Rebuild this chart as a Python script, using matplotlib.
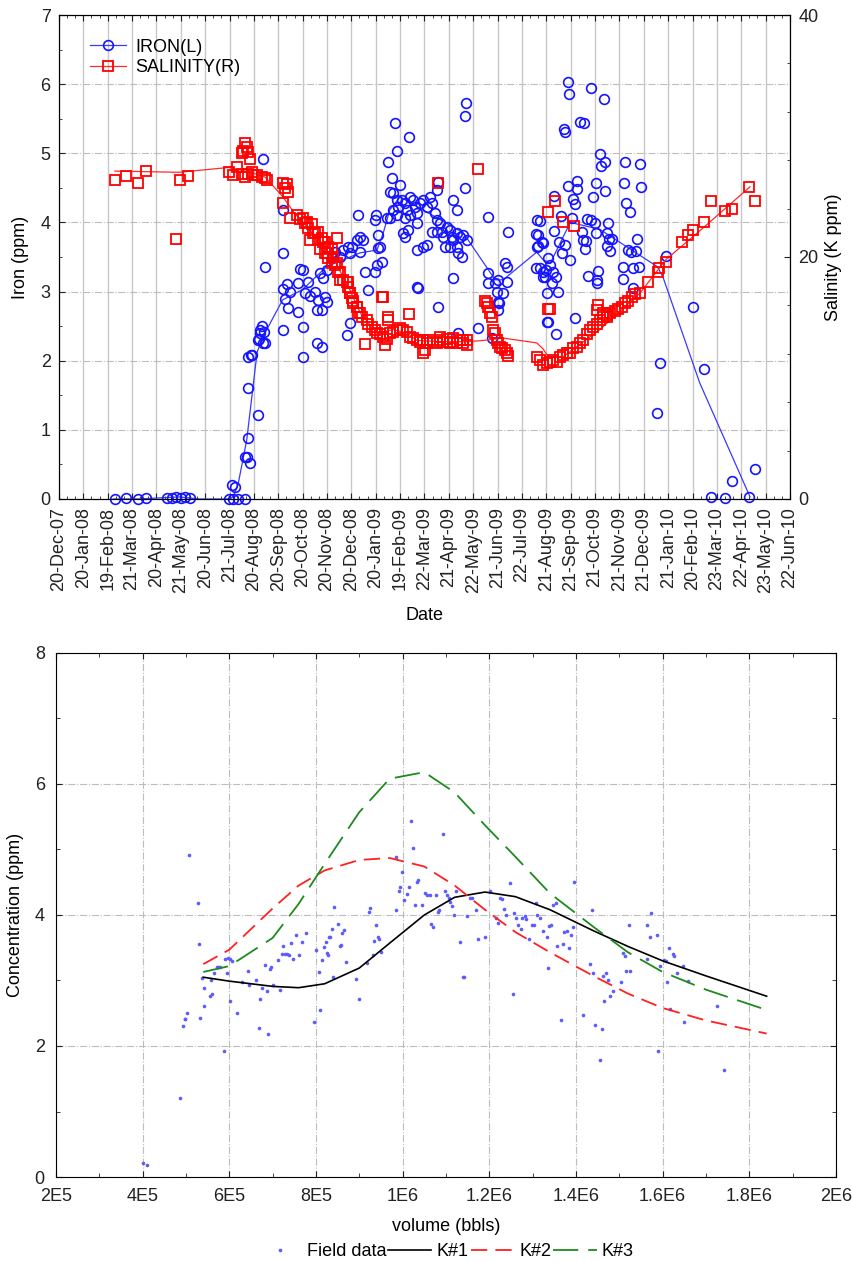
import numpy as np
import matplotlib.pyplot as plt
from matplotlib.ticker import MultipleLocator
from matplotlib.lines import Line2D

plt.rcParams['font.family'] = ['Liberation Sans', 'DejaVu Sans']
plt.rcParams['font.size'] = 13

# ---------------- top chart data (days counted from 20-Dec-07) ----------------
date_labels = ['20-Dec-07', '20-Jan-08', '19-Feb-08', '21-Mar-08', '20-Apr-08', '21-May-08',
               '20-Jun-08', '21-Jul-08', '20-Aug-08', '20-Sep-08', '20-Oct-08', '20-Nov-08',
               '20-Dec-08', '20-Jan-09', '19-Feb-09', '22-Mar-09', '21-Apr-09', '22-May-09',
               '21-Jun-09', '22-Jul-09', '21-Aug-09', '21-Sep-09', '21-Oct-09', '21-Nov-09',
               '21-Dec-09', '21-Jan-10', '20-Feb-10', '23-Mar-10', '22-Apr-10', '23-May-10',
               '22-Jun-10']
tick_step = 30.5  # days between date labels

iron_day = [70, 84, 99, 109, 135, 141, 146, 153, 158, 164, 213, 218, 224, 233, 217, 220,
            233, 235, 237, 239, 237, 237, 240, 249, 250, 252, 254, 257, 258, 255, 258,
            280, 280, 280, 285, 289, 283, 299, 302, 305, 312, 308, 314,
            320, 327, 330, 333, 324, 335, 329, 323,
            287, 299, 305, 280, 252, 255, 249, 323, 329, 305, 242,
            335, 342, 345, 352, 355, 362, 364, 367, 373, 377, 381, 374, 377, 383, 387, 364, 360,
            396, 397, 399, 402, 399, 398, 396, 404, 411, 412, 417, 421, 423, 427, 438,
            414, 418, 423, 424, 429, 433, 436, 439, 443, 446, 448, 452, 456, 461, 464, 467,
            471, 473, 477, 479, 481, 486, 489, 492, 493, 498, 502, 506, 511, 498, 489, 483,
            473, 467, 414, 418, 423, 433, 439, 448, 456, 461, 448, 431, 433, 437,
            474, 473, 508, 498, 493, 499, 504, 493, 474, 449, 448, 499, 524, 537, 562, 558,
            561, 537, 537, 546, 550, 548, 556, 550, 561, 550, 542, 598, 600, 606, 598, 602,
            606, 608, 611, 611, 509, 508, 551,
            637, 638, 666, 682, 652, 657, 632, 633, 677, 678, 683, 708, 727, 648, 637, 648,
            672, 707, 728, 683, 668, 620, 643, 646, 710, 715, 628, 642, 661, 666, 671, 602,
            687, 723, 620, 655, 672, 686, 688, 692, 656, 660, 658, 597, 605, 600, 626, 633,
            630, 640, 712, 716, 722, 686, 690, 612, 615, 610, 618, 606, 617, 622, 597, 675,
            673, 673, 662, 706, 718, 726, 706, 718, 625, 646, 612, 622, 760, 794, 752,
            749, 807, 816, 834, 864, 842, 871]
iron_ppm = [0.0, 0.01, 0.0, 0.01, 0.02, 0.02, 0.03, 0.02, 0.03, 0.02, 0.0, 0.0, 0.0, 0.0, 0.2, 0.17,
            0.6, 0.6, 0.88, 0.52, 1.6, 2.05, 2.08, 1.21, 2.31, 2.4, 2.5, 2.41, 2.25, 4.92, 3.35,
            4.18, 3.56, 3.04, 3.11, 2.99, 2.89, 3.12, 3.33, 3.31, 3.14, 2.98, 2.94,
            2.99, 3.27, 3.2, 2.92, 2.88, 2.85, 2.73, 2.73,
            2.76, 2.7, 2.49, 2.44, 2.44, 2.26, 2.3, 2.26, 2.2, 2.05, 2.08,
            3.31, 3.5, 3.57, 3.5, 3.6, 3.65, 3.56, 3.65, 3.75, 3.79, 3.75, 4.11, 3.57, 3.28, 3.02, 2.55, 2.37,
            4.04, 4.11, 3.82, 3.65, 3.63, 3.38, 3.28, 3.43, 4.06, 4.87, 4.64, 5.44, 5.03, 4.54, 5.24,
            4.44, 4.43, 4.32, 4.22, 4.32, 4.28, 4.18, 4.37, 4.32, 4.22, 4.14, 4.28, 4.32, 4.22, 4.37, 4.28,
            4.14, 4.04, 3.99, 3.86, 3.79, 3.93, 3.89, 3.79, 3.75, 3.85, 3.79, 3.82, 3.75, 3.65, 3.65, 3.65,
            3.86, 3.86, 4.06, 4.18, 4.11, 4.06, 4.11, 3.99, 3.65, 3.67, 3.6, 3.85, 3.79, 3.89,
            4.58, 4.47, 4.5, 4.18, 4.32, 3.56, 3.5, 3.2, 2.78, 3.05, 3.07, 2.4, 2.47, 4.08, 3.86, 3.41,
            3.36, 3.27, 3.12, 3.12, 3.17, 2.99, 2.98, 2.85, 3.14, 2.73, 2.33, 4.04, 3.82, 3.7, 3.65, 3.34,
            3.28, 3.21, 2.98, 2.56, 5.73, 5.54, 2.83,
            6.03, 5.86, 5.95, 5.79, 5.45, 5.44, 5.35, 5.31, 4.99, 4.82, 4.87, 4.87, 4.85, 4.6, 4.53, 4.48,
            4.57, 4.57, 4.51, 4.45, 4.37, 4.38, 4.34, 4.27, 4.28, 4.15, 4.09, 4.06, 4.05, 4.04, 3.99, 4.02,
            3.99, 3.76, 3.88, 3.86, 3.85, 3.85, 3.76, 3.76, 3.75, 3.73, 3.62, 3.83, 3.72, 3.66, 3.72, 3.67,
            3.56, 3.46, 3.6, 3.57, 3.59, 3.66, 3.59, 3.49, 3.38, 3.31, 3.28, 3.21, 3.12, 3.21, 3.34, 3.3,
            3.17, 3.12, 3.23, 3.36, 3.34, 3.36, 3.18, 3.05, 2.99, 2.62, 2.56, 2.39, 3.51, 2.78, 1.97,
            1.25, 1.88, 0.03, 0.01, 0.03, 0.26, 0.43]

iron_fit_day = [68, 100, 150, 176, 213, 218, 224, 235, 248, 255, 280, 305, 335, 377, 398, 406,
                414, 427, 506, 546, 556, 598, 606, 615, 640, 677, 749, 756, 802, 865]
iron_fit_ppm = [0.0, 0.0, 0.03, 0.0, 0.0, 0.03, 0.2, 0.85, 2.12, 2.34, 2.88, 3.03, 3.36, 3.56, 3.6, 3.85,
                4.18, 4.37, 3.85, 3.17, 3.17, 3.57, 3.46, 3.41, 4.0, 3.9, 3.36, 3.21, 1.68, 0.03]

sal_day = [70, 84, 99, 109, 146, 152, 162, 213, 218, 223, 229, 233, 230, 233, 235, 237, 229, 239,
           237, 242, 243, 248, 254, 258, 260,
           280, 283, 285, 287, 280, 289, 298, 302, 305, 310, 317, 314, 318, 324, 329, 333, 337,
           348, 327, 335, 343, 348, 352, 355, 362, 364, 368, 373, 377, 406, 412, 438,
           308, 312, 320, 324, 330, 342, 333, 337, 342, 345, 349, 352, 360, 362, 364, 367, 368,
           373, 374, 379, 386, 387, 392, 396, 398, 402, 406, 411, 414, 418, 423, 427, 431, 436,
           439, 443, 448, 452, 456, 461, 464, 468, 473, 477, 481, 486, 489, 493, 498, 502, 506,
           511, 383, 408, 456, 412, 404, 475, 524, 612, 612,
           533, 536, 537, 539, 542, 543, 546, 548, 550, 555, 558, 561, 562, 598, 602, 606,
           552, 611, 615, 618, 623, 627, 631, 636, 640, 643, 648, 652, 656, 661, 665, 668,
           673, 677, 681, 686, 690, 696, 700, 705, 708, 712, 717, 721, 727, 675, 673, 681, 686,
           615, 621, 631, 645, 737, 750, 760, 780, 787, 794, 751, 807, 816, 834, 842, 864, 871,
           452, 458, 477, 493, 506, 511]
sal_kppm = [26.4, 26.7, 26.1, 27.1, 21.5, 26.4, 26.7, 27.0, 26.8, 27.4, 26.9, 26.6, 28.8, 29.4, 29.1,
            28.7, 28.6, 28.1, 26.9, 27.0, 26.8, 26.8, 26.6, 26.5, 26.4,
            26.1, 25.7, 26.0, 25.4, 24.5, 23.2, 23.5, 23.1, 23.2, 22.9, 22.7, 21.4, 22.0, 22.1, 21.6,
            21.2, 20.8, 21.6, 20.7, 20.3, 20.0, 19.5, 18.8, 18.1, 17.9, 17.0, 16.4, 15.9, 15.4, 16.7,
            15.0, 15.3,
            22.8, 22.4, 22.0, 21.4, 21.2, 20.7, 20.3, 19.9, 19.5, 19.3, 18.8, 18.1, 17.9, 17.5, 17.0,
            16.6, 16.2, 15.9, 15.4, 15.0, 14.8, 14.5, 14.2, 14.0, 13.7, 13.6, 13.4, 13.2, 13.7, 13.8,
            14.0, 14.1, 14.0, 13.8, 13.4, 13.3, 13.1, 13.0, 13.1, 12.9, 13.1, 13.0, 12.9, 13.1, 13.0,
            13.2, 12.9, 13.0, 12.9, 13.1, 12.9, 13.1, 12.8, 12.7, 12.1, 14.8, 16.7, 26.1, 27.3, 23.7,
            15.7,
            16.4, 16.2, 15.9, 15.4, 15.0, 14.0, 13.7, 13.1, 12.9, 12.5, 12.3, 12.1, 11.8, 11.7, 11.5,
            11.1, 12.6, 11.2, 11.3, 11.5, 11.3, 11.7, 11.9, 12.1, 12.1, 12.5, 12.6, 12.9, 13.1, 13.6,
            14.0, 14.2, 14.5, 14.8, 15.0, 15.2, 15.4, 15.5, 15.7, 15.9, 16.2, 16.4, 16.7, 16.9, 17.0,
            16.0, 15.6, 15.4, 15.0, 15.7, 24.6, 22.9, 22.6, 17.9, 18.8, 19.6, 21.2, 21.8, 22.2, 19.1,
            22.9, 24.6, 23.8, 24.0, 25.8, 24.6,
            13.1, 12.3, 13.4, 13.3, 13.1, 12.7]

sal_fit_day = [70, 150, 213, 240, 258, 280, 295, 325, 345, 364, 377, 398, 418, 436, 448, 480,
               511, 531, 556, 598, 606, 612, 630, 677, 727, 760, 801, 865]
sal_fit_kppm = [27.1, 27.0, 27.4, 27.0, 26.6, 25.0, 23.6, 21.5, 19.7, 17.3, 15.4, 13.7, 14.0, 13.7,
                13.1, 13.0, 13.0, 13.1, 13.3, 12.9, 12.4, 11.8, 11.7, 14.0, 17.0, 19.8, 22.1, 25.8]

# ---------------- bottom chart data ----------------
vol_labels = ['2E5', '4E5', '6E5', '8E5', '1E6', '1.2E6', '1.4E6', '1.6E6', '1.8E6', '2E6']

field_vol = [4.0e5, 4.09e5, 4.86e5, 5.08e5, 5.28e5, 5.29e5, 4.93e5, 4.97e5, 4.98e5, 5.02e5,
             5.33e5, 5.37e5, 5.41e5, 5.42e5, 5.55e5, 5.61e5, 5.58e5, 5.65e5, 5.72e5, 5.75e5,
             5.79e5, 5.87e5, 5.91e5, 5.97e5, 6.02e5, 6.07e5, 5.95e5, 6.02e5, 6.18e5, 6.43e5,
             6.45e5, 6.29e5, 6.62e5, 6.68e5, 6.7e5, 6.75e5, 6.83e5, 6.93e5, 6.96e5, 6.87e5,
             6.89e5, 7.01e5, 7.16e5, 7.12e5, 7.24e5, 7.21e5, 7.29e5, 7.33e5, 7.38e5, 7.46e5,
             7.53e5, 7.42e5, 7.6e5, 7.68e5, 7.76e5, 7.96e5, 8.01e5, 8.06e5, 8.1e5, 8.13e5,
             8.18e5, 8.22e5, 8.25e5, 8.27e5, 8.3e5, 8.33e5, 8.38e5, 8.41e5, 8.39e5, 8.5e5,
             8.55e5, 8.58e5, 8.6e5, 8.64e5, 8.7e5, 8.92e5, 9.0e5, 9.18e5, 9.22e5, 9.25e5,
             9.31e5, 9.35e5, 9.38e5, 9.42e5, 9.45e5, 9.51e5, 9.85e5, 9.85e5, 9.91e5, 9.95e5,
             9.98e5, 1.002e6, 1.01e6, 1.014e6, 1.02e6, 1.024e6, 1.028e6, 1.032e6, 1.036e6, 1.045e6,
             1.052e6, 1.056e6, 1.064e6, 1.078e6, 1.065e6, 1.07e6, 1.081e6, 1.083e6, 1.092e6, 1.098e6,
             1.102e6, 1.106e6, 1.11e6, 1.113e6, 1.119e6, 1.124e6, 1.132e6, 1.139e6, 1.142e6, 1.148e6,
             1.155e6, 1.16e6, 1.169e6, 1.175e6, 1.189e6, 1.202e6, 1.215e6, 1.219e6, 1.225e6, 1.229e6,
             1.233e6, 1.239e6, 1.247e6, 1.254e6, 1.256e6, 1.262e6, 1.266e6, 1.272e6, 1.275e6, 1.283e6,
             1.285e6, 1.291e6, 1.298e6, 1.302e6, 1.308e6, 1.31e6, 1.316e6, 1.325e6, 1.332e6, 1.335e6,
             1.337e6, 1.342e6, 1.346e6, 1.354e6, 1.356e6, 1.369e6, 1.373e6, 1.379e6, 1.385e6, 1.388e6,
             1.392e6, 1.396e6, 1.365e6, 1.417e6, 1.433e6, 1.436e6, 1.44e6, 1.445e6, 1.455e6, 1.459e6,
             1.462e6, 1.469e6, 1.473e6, 1.465e6, 1.478e6, 1.485e6, 1.504e6, 1.508e6, 1.512e6, 1.515e6,
             1.525e6, 1.522e6, 1.564e6, 1.565e6, 1.571e6, 1.573e6, 1.586e6, 1.59e6, 1.595e6, 1.602e6,
             1.608e6, 1.61e6, 1.614e6, 1.618e6, 1.623e6, 1.627e6, 1.633e6, 1.648e6, 1.65e6, 1.658e6,
             1.725e6, 1.741e6]
field_conc = [0.21, 0.18, 1.21, 4.91, 4.19, 3.55, 2.31, 2.41, 2.41, 2.51,
              2.43, 3.04, 2.88, 2.61, 2.76, 2.79, 3.0, 3.12, 3.2, 3.21,
              3.21, 1.92, 3.33, 3.35, 3.33, 3.29, 3.12, 2.69, 2.5, 3.14,
              2.93, 2.98, 3.0, 2.27, 2.72, 2.89, 3.24, 3.17, 3.21, 2.84,
              2.19, 2.93, 2.86, 3.31, 3.52, 3.4, 3.4, 3.4, 3.39, 3.33,
              3.69, 3.57, 3.39, 3.58, 3.73, 2.37, 3.47, 3.13, 2.55, 3.31,
              3.51, 3.58, 3.42, 3.39, 3.66, 3.66, 3.79, 4.12, 3.06, 3.86,
              3.52, 3.54, 3.72, 3.77, 3.28, 3.02, 2.71, 3.27, 4.04, 4.1,
              3.39, 3.61, 3.84, 3.66, 3.63, 3.44, 4.07, 4.88, 4.36, 4.43,
              4.65, 4.23, 4.32, 4.42, 5.44, 5.02, 4.15, 4.51, 4.54, 4.16,
              4.33, 4.3, 4.3, 4.3, 3.86, 3.81, 4.04, 4.08, 5.23, 4.37,
              4.31, 4.26, 4.2, 4.14, 4.0, 4.36, 3.59, 3.05, 3.06, 3.98,
              4.26, 4.26, 4.07, 3.63, 3.67, 4.37, 3.95, 3.87, 4.26, 4.24,
              4.09, 4.0, 4.49, 2.79, 4.03, 3.96, 3.84, 3.79, 3.96, 3.98,
              3.94, 3.63, 3.84, 3.84, 4.19, 4.0, 3.96, 3.76, 3.66, 3.19,
              3.83, 3.85, 4.16, 4.18, 3.52, 3.55, 3.74, 3.75, 3.49, 3.7,
              3.81, 4.5, 2.4, 2.47, 3.25, 4.08, 3.11, 2.32, 1.79, 2.26,
              3.07, 3.11, 3.0, 2.68, 2.77, 2.84, 2.97, 3.42, 3.37, 3.15,
              3.15, 3.85, 3.33, 3.84, 3.66, 4.03, 3.7, 1.92, 3.22, 3.32,
              3.3, 2.97, 3.49, 2.56, 3.41, 3.37, 3.12, 3.22, 2.37, 2.99,
              2.61, 1.63]

model_vol = [5.4e5, 6.0e5, 7.0e5, 7.6e5, 8.2e5, 9.0e5, 9.7e5, 1.05e6, 1.12e6, 1.19e6,
             1.26e6, 1.34e6, 1.44e6, 1.52e6, 1.6e6, 1.7e6, 1.84e6]
k1 = [3.05, 2.99, 2.91, 2.89, 2.95, 3.19, 3.57, 4.0, 4.27, 4.35, 4.28, 4.08, 3.76, 3.52, 3.3, 3.07, 2.76]
k2 = [3.25, 3.47, 4.1, 4.45, 4.68, 4.84, 4.87, 4.74, 4.45, 4.08, 3.74, 3.43, 3.07, 2.8, 2.58, 2.39, 2.19]
k3 = [3.13, 3.22, 3.65, 4.17, 4.78, 5.57, 6.08, 6.18, 5.87, 5.37, 4.89, 4.33, 3.82, 3.43, 3.13, 2.86, 2.55]

fig = plt.figure(figsize=(8.52, 12.61), dpi=100)

# ================= top chart =================
ax1 = fig.add_axes([0.0692, 0.6043, 0.858, 0.3838])
ax2 = ax1.twinx()

ax1.plot(iron_fit_day, iron_fit_ppm, color='#3a3aff', lw=0.9, zorder=2)
ax1.plot(iron_day, iron_ppm, 'o', ls='none', mfc='none', mec='#1414ff', ms=7, mew=1.2,
         clip_on=False, zorder=3)
ax2.plot(sal_fit_day, sal_fit_kppm, color='#ff2a2a', lw=0.9, zorder=2)
ax2.plot(sal_day, sal_kppm, 's', ls='none', mfc='none', mec='#ff0000', ms=6.5, mew=1.3,
         clip_on=False, zorder=3)

ax1.set_xlim(0, 30 * tick_step)
ax1.set_ylim(0, 7)
ax2.set_ylim(0, 40)
ax1.set_xticks(np.arange(31) * tick_step)
ax1.set_xticklabels(date_labels, rotation=90)
ax1.xaxis.set_minor_locator(MultipleLocator(tick_step / 3))
ax1.set_yticks(range(8))
ax1.yaxis.set_minor_locator(MultipleLocator(0.5))
ax2.set_yticks([0, 20, 40])
ax2.yaxis.set_minor_locator(MultipleLocator(4))

ax1.grid(axis='x', color='#c8c8c8', lw=1.0, ls='-')
ax1.grid(axis='y', color='#bdbdbd', lw=0.8, ls='-.')
ax1.set_axisbelow(True)
ax1.tick_params(which='both', direction='in', top=True, right=False, colors='#222222')
ax1.tick_params(which='major', length=4, pad=6)
ax1.tick_params(which='minor', length=2.5)
ax2.tick_params(which='both', direction='in', colors='#222222')
ax2.tick_params(which='major', length=4, pad=6)
ax2.tick_params(which='minor', length=2.5)

ax1.set_xlabel('Date', labelpad=10)
ax1.set_ylabel('Iron (ppm)', labelpad=8)
ax2.set_ylabel('Salinity (K ppm)', labelpad=5)

handles = [Line2D([], [], color='#3a3aff', lw=0.9, marker='o', mfc='none', mec='#1414ff', ms=7, mew=1.2),
           Line2D([], [], color='#ff2a2a', lw=0.9, marker='s', mfc='none', mec='#ff0000', ms=6.5, mew=1.3)]
ax2.legend(handles, ['IRON(L)', 'SALINITY(R)'], loc='upper left', bbox_to_anchor=(0.02, 0.985),
           frameon=False, handlelength=2.0, handletextpad=0.5, labelspacing=0.2)

# ================= bottom chart =================
ax3 = fig.add_axes([0.0657, 0.0666, 0.9155, 0.4156])
ax3.plot(field_vol, field_conc, 'o', ls='none', ms=2.6, color='#5c5cff', mec='none', label='Field data')
ax3.plot(model_vol, k1, color='black', lw=1.2, label='K#1')
ax3.plot(model_vol, k2, color='#ff2020', lw=1.3, ls=(0, (9, 4.5)), label='K#2')
ax3.plot(model_vol, k3, color='#1e8a1e', lw=1.3, ls=(0, (14, 5.5)), label='K#3')

ax3.set_xlim(2e5, 2e6)
ax3.set_ylim(0, 8)
ax3.set_xticks(np.arange(1, 11) * 2e5)
ax3.set_xticklabels(vol_labels)
ax3.xaxis.set_minor_locator(MultipleLocator(1e5))
ax3.set_yticks(range(0, 9, 2))
ax3.yaxis.set_minor_locator(MultipleLocator(1))
ax3.grid(color='#bdbdbd', lw=0.8, ls='-.')
ax3.set_axisbelow(True)
ax3.tick_params(which='both', direction='in', top=True, right=True, colors='#222222')
ax3.tick_params(which='major', length=4, pad=8)
ax3.tick_params(which='minor', length=3)
ax3.set_xlabel('volume (bbls)', labelpad=9)
ax3.set_ylabel('Concentration (ppm)', labelpad=8)
ax3.legend(loc='upper center', bbox_to_anchor=(0.5, -0.095), ncol=4, frameon=False,
           handlelength=2.4, handletextpad=0.3, columnspacing=0.1, markerscale=1.0)

fig.savefig('out.png', dpi=100)
